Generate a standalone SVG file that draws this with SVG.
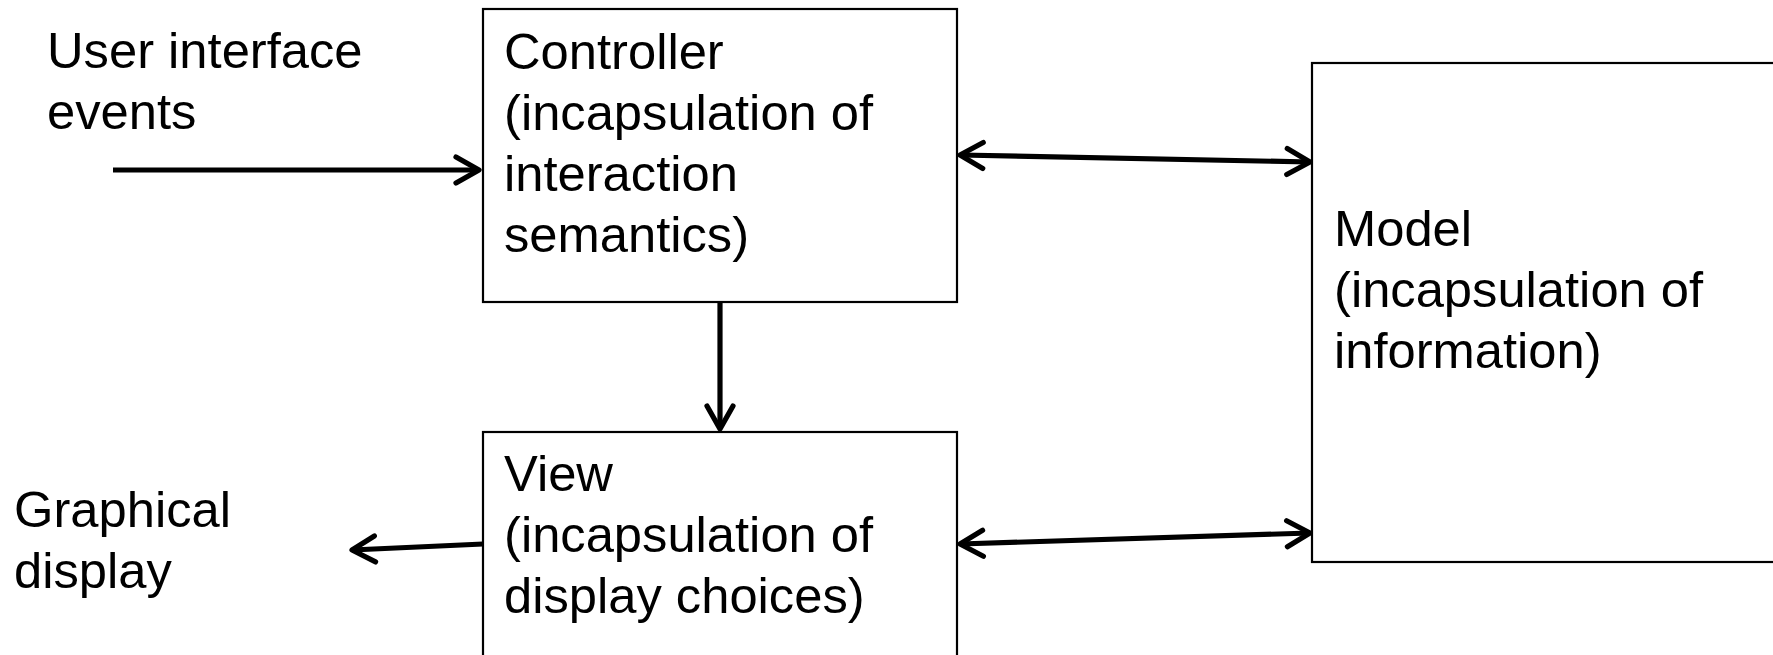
<svg xmlns="http://www.w3.org/2000/svg" width="1773" height="655" viewBox="0 0 1773 655">
  <style>
    .box { fill: #ffffff; stroke: #000000; stroke-width: 2.2; }
    .txt { font-family: "Liberation Sans", Arial, sans-serif; font-size: 50.7px; fill: #000000; }
    .conn { fill: none; stroke: #000000; stroke-width: 5.2; }
  </style>
  <defs>
    <marker id="chevron" viewBox="-32 -20 40 40" refX="0" refY="0" markerWidth="40" markerHeight="40" markerUnits="userSpaceOnUse" orient="auto-start-reverse">
      <path d="M -23 -13 L 0 0 L -23 13" fill="none" stroke="#000000" stroke-width="5.2" stroke-linecap="round" stroke-linejoin="round"/>
    </marker>
  </defs>

  <rect width="1773" height="655" fill="#ffffff"/>

  <!-- free labels -->
  <g id="ui-events">
    <text class="txt" x="47" y="68">User interface</text>
    <text class="txt" x="47" y="129">events</text>
  </g>
  <g id="graphical-display">
    <text class="txt" x="14" y="527">Graphical</text>
    <text class="txt" x="14" y="588">display</text>
  </g>

  <!-- components -->
  <g id="controller">
    <rect class="box" x="483" y="9" width="474" height="293"/>
    <text class="txt" x="504" y="69">Controller</text>
    <text class="txt" x="504" y="130">(incapsulation of</text>
    <text class="txt" x="504" y="191">interaction</text>
    <text class="txt" x="504" y="252">semantics)</text>
  </g>
  <g id="view">
    <rect class="box" x="483" y="432" width="474" height="260"/>
    <text class="txt" x="504" y="491">View</text>
    <text class="txt" x="504" y="552">(incapsulation of</text>
    <text class="txt" x="504" y="613">display choices)</text>
  </g>
  <g id="model">
    <rect class="box" x="1312" y="63" width="520" height="499"/>
    <text class="txt" x="1334" y="246">Model</text>
    <text class="txt" x="1334" y="307">(incapsulation of</text>
    <text class="txt" x="1334" y="368">information)</text>
  </g>

  <!-- connectors -->
  <g id="connectors">
    <line class="conn" x1="113" y1="170" x2="479" y2="170" marker-end="url(#chevron)"/>
    <line class="conn" x1="720" y1="302" x2="720" y2="429" marker-end="url(#chevron)"/>
    <line class="conn" x1="960" y1="155" x2="1310" y2="162" marker-start="url(#chevron)" marker-end="url(#chevron)"/>
    <line class="conn" x1="960" y1="544" x2="1310" y2="533" marker-start="url(#chevron)" marker-end="url(#chevron)"/>
    <line class="conn" x1="483" y1="544" x2="352" y2="550" marker-end="url(#chevron)"/>
  </g>
</svg>
